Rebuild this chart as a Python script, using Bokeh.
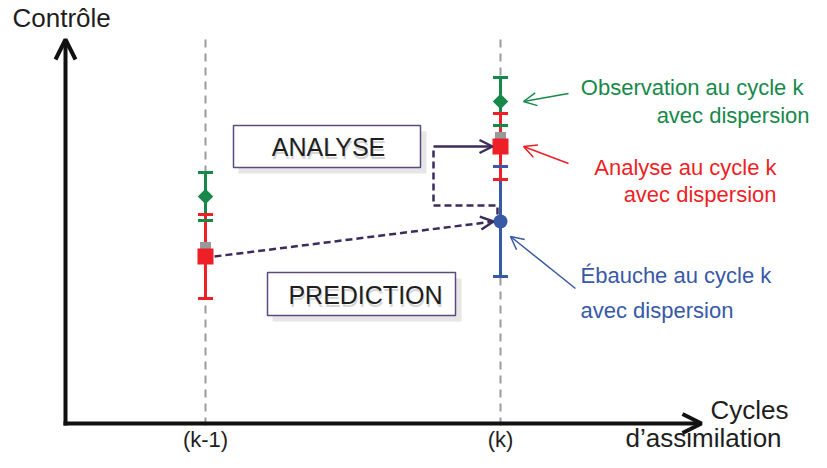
from bokeh.plotting import figure
from bokeh.models import Range1d, Arrow, OpenHead, Label
from bokeh.embed import file_html
from bokeh.resources import INLINE

# ---------------- data ----------------
cycles = ["(k-1)", "(k)"]
cycle_pos = [0, 1]

obs_cycle = [0, 1]          # observation (green)
obs_value = [22.7, 32.2]
obs_err = [2.4, 2.4]

ana_cycle = [0, 1]          # analysis (red)
ana_value = [16.7, 27.7]
ana_err = [4.2, 3.3]

bkg_cycle = [1]             # background / ebauche (blue)
bkg_value = [20.2]
bkg_err = [5.5]

# ---------------- layout helpers (canvas pixels -> data units) ----------------
PXC = 295.0   # pixels per cycle
PXU = 10.0    # pixels per control unit
OX, OY = 205.0, 423.0
W, H = 811, 452


def X(px):
    return (px - OX) / PXC


def Y(py):
    return (OY - py) / PXU


def dx(pix):
    return pix / PXC


def dy(pix):
    return pix / PXU


FONT = "Liberation Sans"
GREEN = "#16894a"
RED = "#ee1f26"
BLUE = "#3858a8"
PURPLE = "#3b2c5c"
GREY = "#9b9b9b"

p = figure(width=W, height=H, x_range=Range1d(X(0), X(W)),
           y_range=Range1d(Y(H), Y(0)), output_backend="svg",
           toolbar_location=None, min_border=0,
           x_axis_type=None, y_axis_type=None)
p.grid.visible = False
p.outline_line_color = None
p.background_fill_color = "white"
p.border_fill_color = "white"

# cycle guide lines
p.segment(x0=cycle_pos, y0=[Y(425)] * 2, x1=cycle_pos, y1=[Y(38)] * 2,
          line_color=GREY, line_width=2, line_dash="8 6")

# axes as arrows
p.add_layout(Arrow(end=OpenHead(size=20, line_width=4, line_color="#111111"),
                   x_start=X(65), y_start=Y(425), x_end=X(65), y_end=Y(39),
                   line_width=4, line_color="#111111"))
p.add_layout(Arrow(end=OpenHead(size=19, line_width=4, line_color="#111111"),
                   x_start=X(63), y_start=0, x_end=X(701), y_end=0,
                   line_width=4, line_color="#111111"))

# error bars: stems
CW = dx(7.5)
BW = 3


def stems(c, v, e, col):
    p.segment(x0=c, y0=[a - b for a, b in zip(v, e)], x1=c,
              y1=[a + b for a, b in zip(v, e)], line_color=col, line_width=BW)


def caps(c, v, e, col):
    for sgn in (1, -1):
        yy = [a + sgn * b for a, b in zip(v, e)]
        p.segment(x0=[a - CW for a in c], y0=yy, x1=[a + CW for a in c], y1=yy,
                  line_color=col, line_width=BW)


stems(obs_cycle, obs_value, obs_err, GREEN)
stems(bkg_cycle, bkg_value, bkg_err, BLUE)
stems(ana_cycle, ana_value, ana_err, RED)
caps(obs_cycle, obs_value, obs_err, GREEN)
caps(bkg_cycle, bkg_value, bkg_err, BLUE)
caps(ana_cycle, ana_value, ana_err, RED)

# markers
p.scatter(x=ana_cycle, y=[v + dy(9) for v in ana_value], marker="square",
          size=11, fill_color="#999999", line_color=None)
p.scatter(x=ana_cycle, y=ana_value, marker="square", size=16,
          fill_color=RED, line_color=None)
p.scatter(x=obs_cycle, y=obs_value, marker="square", size=11, angle=0.785398,
          fill_color=GREEN, line_color=None)
p.scatter(x=bkg_cycle, y=bkg_value, marker="circle", size=14,
          fill_color=BLUE, line_color=None)

# forecast arrow (dashed)
p.add_layout(Arrow(end=OpenHead(size=13, line_width=2.5, line_color=PURPLE),
                   x_start=ana_cycle[0] + dx(9), y_start=ana_value[0],
                   x_end=bkg_cycle[0] - dx(7), y_end=bkg_value[0],
                   line_width=2.5, line_color=PURPLE, line_dash="7 4"))
# analysis step path
p.line(x=[1 - dx(3), 1 - dx(3), X(433), X(433)],
       y=[Y(214), Y(205), Y(205), ana_value[1] - dy(2)],
       line_color=PURPLE, line_width=2.5, line_dash="7 4")
p.add_layout(Arrow(end=OpenHead(size=13, line_width=2.5, line_color=PURPLE),
                   x_start=X(433), y_start=ana_value[1],
                   x_end=ana_cycle[1] - dx(8), y_end=ana_value[1],
                   line_width=2.5, line_color=PURPLE))


def lab(x, y, t, col, size, align="left", alpha=1.0):
    p.add_layout(Label(x=X(x), y=Y(y), text=t, text_font=FONT,
                       text_font_size=size, text_color=col, text_alpha=alpha,
                       text_align=align, text_baseline="middle"))


# boxes
for (l, t, r, b, txt, tx, ty) in [(233, 125, 420, 167, "ANALYSE", 328, 146),
                                  (267, 272, 455, 315, "PREDICTION", 365, 294)]:
    p.quad(left=[X(l + 5)], right=[X(r + 6)], top=[Y(t + 6)], bottom=[Y(b + 6)],
           fill_color="#dcdcdc", fill_alpha=0.7, line_color=None)
    p.quad(left=[X(l)], right=[X(r)], top=[Y(t)], bottom=[Y(b)],
           fill_color="white", line_color="#5b4b7d", line_width=1.5)
    lab(tx + 1, ty + 3, txt, "#bbbbbb", "25px", "center", 0.6)
    lab(tx, ty, txt, "#1e1e1e", "25px", "center")

# annotation arrows
for (x0, y0, x1, y1, col) in [(X(568), Y(93), 1 + dx(23), obs_value[1], GREEN),
                              (X(568), Y(163), 1 + dx(23), ana_value[1], RED),
                              (X(575), Y(288), 1 + dx(10), bkg_value[0] - dy(15), BLUE)]:
    p.add_layout(Arrow(end=OpenHead(size=13, line_width=1.5, line_color=col),
                       x_start=x0, y_start=y0, x_end=x1, y_end=y1,
                       line_width=1.5, line_color=col))

lab(809, 87, "Observation  au cycle k", GREEN, "22px", "right")
lab(809, 115, "avec dispersion", GREEN, "22px", "right")
lab(776, 167, "Analyse au cycle k", RED, "22px", "right")
lab(776, 194, "avec dispersion", RED, "22px", "right")
lab(580, 275, "Ébauche au cycle k", BLUE, "22px")
lab(580, 310, "avec dispersion", BLUE, "22px")

lab(12, 17, "Contrôle", "#1e1e1e", "26px")
lab(710, 409, "Cycles", "#1e1e1e", "26px")
lab(625, 437, "d\u2019assimilation", "#1e1e1e", "26px")

# cycle tick labels
p.text(x=cycle_pos, y=[Y(439)] * 2, text=cycles, text_font_size="22px",
       text_align="center", text_baseline="middle", text_color="#1e1e1e",
       text_font={"value": FONT})

open("out.html", "w").write(file_html(p, INLINE))
